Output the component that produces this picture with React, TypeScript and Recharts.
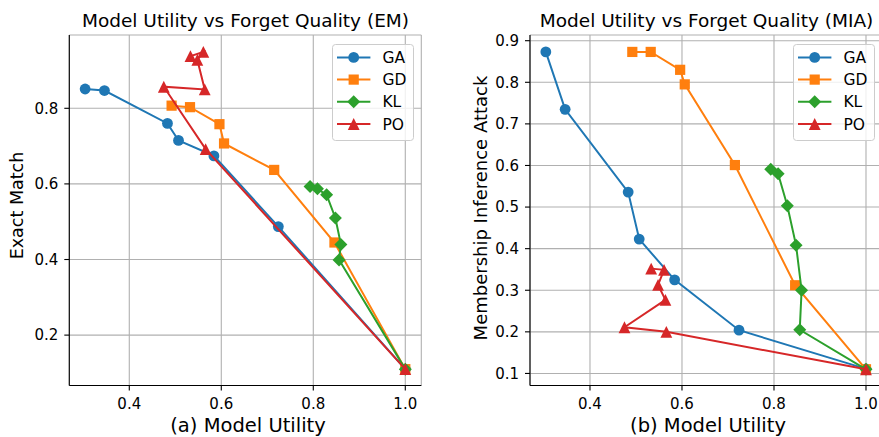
import React from 'react';
import { ScatterChart, Scatter, XAxis, YAxis, CartesianGrid, Legend } from 'recharts';

const methodNames = ['GA', 'GD', 'KL', 'PO'];
const methodColors = ['#1f77b4', '#ff7f0e', '#2ca02c', '#d62728'];
const methodMarkers = ['circle', 'square', 'diamond', 'triangle'];

// Model utility (x) per method
const gaUtility = [0.304, 0.346, 0.483, 0.507, 0.584, 0.724, 1.0];
const gdUtility = [0.492, 0.532, 0.596, 0.606, 0.715, 0.846, 1.0];
const klUtility = [0.793, 0.809, 0.829, 0.848, 0.860, 0.856, 1.0];
const poUtility = [0.533, 0.561, 0.548, 0.564, 0.475, 0.566, 1.0];

// Exact match (left panel)
const gaEM = [0.851, 0.847, 0.760, 0.715, 0.674, 0.487, 0.110];
const gdEM = [0.807, 0.803, 0.758, 0.707, 0.637, 0.445, 0.110];
const klEM = [0.593, 0.587, 0.571, 0.510, 0.440, 0.399, 0.110];
const poEM = [0.938, 0.949, 0.928, 0.850, 0.857, 0.692, 0.110];

// Membership inference attack (right panel)
const gaMIA = [0.873, 0.735, 0.536, 0.423, 0.325, 0.204, 0.111];
const gdMIA = [0.873, 0.873, 0.830, 0.795, 0.601, 0.312, 0.110];
const klMIA = [0.591, 0.580, 0.503, 0.408, 0.300, 0.205, 0.110];
const poMIA = [0.352, 0.349, 0.313, 0.277, 0.211, 0.200, 0.110];

const xTicks = [0.4, 0.6, 0.8, 1.0];
const emTicks = [0.2, 0.4, 0.6, 0.8];
const miaTicks = [0.1, 0.2, 0.3, 0.4, 0.5, 0.6, 0.7, 0.8, 0.9];

const titleLeft = 'Model Utility vs Forget Quality (EM)';
const titleRight = 'Model Utility vs Forget Quality (MIA)';
const xLabelLeft = '(a) Model Utility';
const xLabelRight = '(b) Model Utility';
const yLabelLeft = 'Exact Match';
const yLabelRight = 'Membership Inference Attack';

const FONT = 'DejaVu Sans';
const X_DOMAIN: [number, number] = [0.2696, 1.0348];

const zip = (xs: number[], ys: number[]) => xs.map((x, i) => ({ x, y: ys[i] }));

const utilities = [gaUtility, gdUtility, klUtility, poUtility];
const emSeries = [gaEM, gdEM, klEM, poEM].map((ys, i) => zip(utilities[i], ys));
const miaSeries = [gaMIA, gdMIA, klMIA, poMIA].map((ys, i) => zip(utilities[i], ys));

function Marker({ kind, cx, cy, color }: { kind: string; cx: number; cy: number; color: string }) {
  if (cx == null || cy == null) return null;
  if (kind === 'circle') return <circle cx={cx} cy={cy} r={5.4} fill={color} />;
  if (kind === 'square') return <rect x={cx - 5.1} y={cy - 5.1} width={10.2} height={10.2} fill={color} />;
  if (kind === 'diamond') {
    const d = 6.5;
    return <polygon points={`${cx},${cy - d} ${cx + d},${cy} ${cx},${cy + d} ${cx - d},${cy}`} fill={color} />;
  }
  const t = 5.9;
  return <polygon points={`${cx},${cy - t} ${cx + t},${cy + t} ${cx - t},${cy + t}`} fill={color} />;
}

function LegendBox() {
  const rows = [13.4, 35.6, 57.8, 80.0];
  return (
    <svg width={82} height={97} style={{ display: 'block' }}>
      <rect x={0.5} y={0.5} width={81} height={96} rx={3} ry={3} fill="rgba(255,255,255,0.8)" stroke="#cccccc" strokeWidth={1} />
      {methodNames.map((name, i) => (
        <g key={name}>
          <line x1={5} x2={38.4} y1={rows[i]} y2={rows[i]} stroke={methodColors[i]} strokeWidth={2} />
          <Marker kind={methodMarkers[i]} cx={21.7} cy={rows[i]} color={methodColors[i]} />
          <text x={50.4} y={rows[i] + 5.6} fontFamily={FONT} fontSize={15.5} fill="#000">{name}</text>
        </g>
      ))}
    </svg>
  );
}

function Panel({ left, series, yDomain, yTicks, marginLeft, legendLeft }: any) {
  const tickStyle = { fill: '#000', fontSize: 15, fontFamily: FONT };
  const lineStyle = { stroke: '#000', strokeWidth: 1.1 };
  return (
    <div style={{ position: 'absolute', left, top: 0 }}>
      <ScatterChart width={440} height={437} margin={{ top: 35, right: 440 - marginLeft - 40 - 352, bottom: 437 - 385.5 - 30, left: marginLeft }}>
        <CartesianGrid stroke="#b0b0b0" strokeWidth={1.1} strokeDasharray="" />
        <XAxis
          type="number"
          dataKey="x"
          domain={X_DOMAIN}
          ticks={xTicks}
          interval={0}
          allowDataOverflow
          tickFormatter={(v: number) => v.toFixed(1)}
          height={30}
          tickSize={5}
          tickMargin={8}
          tick={tickStyle}
          axisLine={lineStyle}
          tickLine={lineStyle}
        />
        <XAxis xAxisId="top" orientation="top" type="number" domain={X_DOMAIN} allowDataOverflow ticks={[]} tick={false} tickLine={false} height={0} axisLine={lineStyle} />
        <YAxis
          type="number"
          dataKey="y"
          domain={yDomain}
          ticks={yTicks}
          interval={0}
          allowDataOverflow
          tickFormatter={(v: number) => v.toFixed(1)}
          width={40}
          tickSize={5}
          tickMargin={6}
          tick={tickStyle}
          axisLine={lineStyle}
          tickLine={lineStyle}
        />
        <YAxis yAxisId="right" orientation="right" type="number" domain={yDomain} allowDataOverflow ticks={[]} tick={false} tickLine={false} width={0} axisLine={lineStyle} />
        {series.map((data: any[], i: number) => (
          <Scatter
            key={methodNames[i]}
            name={methodNames[i]}
            data={data}
            fill={methodColors[i]}
            line={{ stroke: methodColors[i], strokeWidth: 2 }}
            isAnimationActive={false}
            shape={(p: any) => <Marker kind={methodMarkers[i]} cx={p.cx} cy={p.cy} color={methodColors[i]} />}
          />
        ))}
        <Legend
          layout="vertical"
          align="center"
          verticalAlign="middle"
          wrapperStyle={{ top: 44.3, left: legendLeft, width: 82, height: 97 }}
          content={() => <LegendBox />}
        />
      </ScatterChart>
    </div>
  );
}

export default function App() {
  return (
    <div style={{ position: 'absolute', left: 0, top: 0, width: 879, height: 437, overflow: 'hidden', background: '#fff' }}>
      <Panel left={0} series={emSeries} yDomain={[0.0667, 0.9939]} yTicks={emTicks} marginLeft={29.3} legendLeft={332} />
      <Panel left={460} series={miaSeries} yDomain={[0.071, 0.9137]} yTicks={miaTicks} marginLeft={30} legendLeft={332.5} />
      <svg width={879} height={437} style={{ position: 'absolute', left: 0, top: 0, pointerEvents: 'none' }}>
        <g fontFamily={FONT} fill="#000">
          <text x={245.5} y={27} textAnchor="middle" fontSize={18.5}>{titleLeft}</text>
          <text x={706.5} y={27} textAnchor="middle" fontSize={18.5}>{titleRight}</text>
          <text x={248} y={431.5} textAnchor="middle" fontSize={19.5}>{xLabelLeft}</text>
          <text x={708} y={431.5} textAnchor="middle" fontSize={19.5}>{xLabelRight}</text>
          <text transform="translate(23.3,205.5) rotate(-90)" textAnchor="middle" fontSize={17.5}>{yLabelLeft}</text>
          <text transform="translate(486.7,208) rotate(-90)" textAnchor="middle" fontSize={18}>{yLabelRight}</text>
        </g>
      </svg>
    </div>
  );
}
